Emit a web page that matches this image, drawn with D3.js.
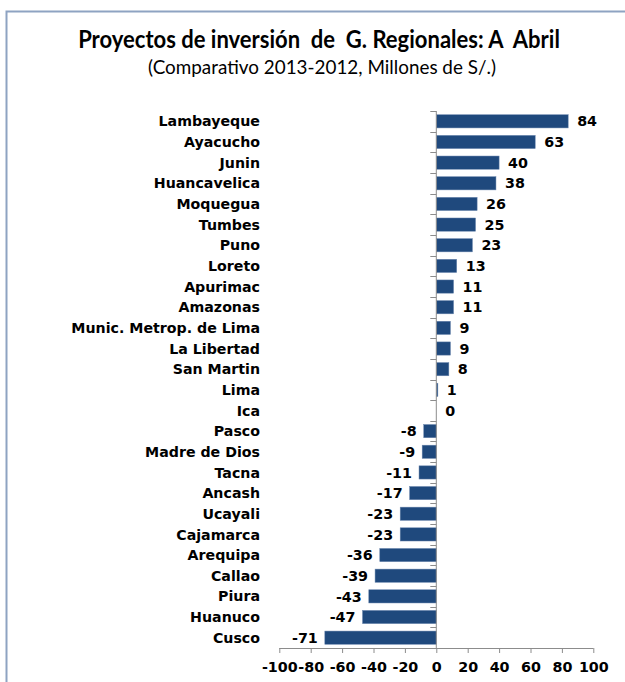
<!DOCTYPE html>
<html>
<head>
<meta charset="utf-8">
<script src="https://cdn.jsdelivr.net/npm/d3@7"></script>
<style>
  html, body { margin: 0; padding: 0; background: #ffffff; }
  svg { display: block; }
</style>
</head>
<body>
<svg id="chart" width="625" height="682"></svg>
<script>
const categories = ["Lambayeque","Ayacucho","Junin","Huancavelica","Moquegua","Tumbes","Puno","Loreto","Apurimac","Amazonas","Munic. Metrop. de Lima","La Libertad","San Martin","Lima","Ica","Pasco","Madre de Dios","Tacna","Ancash","Ucayali","Cajamarca","Arequipa","Callao","Piura","Huanuco","Cusco"];
const values = [84,63,40,38,26,25,23,13,11,11,9,9,8,1,0,-8,-9,-11,-17,-23,-23,-36,-39,-43,-47,-71];
const xTicks = [-100,-80,-60,-40,-20,0,20,40,60,80,100];
const titleText = "Proyectos de inversión  de  G. Regionales: A  Abril";
const subtitleText = "(Comparativo 2013-2012, Millones de S/.)";

const svg = d3.select("#chart");
const labelFont = "'DejaVu Sans', Verdana, sans-serif";
const titleFont = "Lato, 'Open Sans', sans-serif";

// frame
svg.append("rect")
  .attr("x", 6.5).attr("y", 11.5)
  .attr("width", 640).attr("height", 700)
  .attr("fill", "none")
  .attr("stroke", "#8EA3C2")
  .attr("stroke-width", 2);

function fitText(sel, target) {
  const node = sel.node();
  const size = parseFloat(sel.attr("font-size"));
  const w = node.getComputedTextLength();
  if (w > 0) sel.attr("font-size", (size * target / w).toFixed(2));
}

const titleG = svg.append("g").attr("transform", "translate(319,48) scale(1,1.1)");
const title = titleG.append("text")
  .attr("x", 0).attr("y", 0)
  .attr("text-anchor", "middle")
  .attr("font-family", titleFont)
  .attr("font-weight", "bold")
  .attr("font-size", 19)
  .attr("fill", "#000")
  .style("white-space", "pre")
  .text(titleText);
fitText(title, 482);

const sub = svg.append("text")
  .attr("x", 322).attr("y", 74)
  .attr("text-anchor", "middle")
  .attr("font-family", titleFont)
  .attr("font-size", 15)
  .attr("fill", "#000")
  .text(subtitleText);
fitText(sub, 348);

const x = d3.scaleLinear().domain([-100, 100]).range([279.3, 593.3]);
const y = d3.scaleBand().domain(categories).range([111, 648]).paddingInner(0.36).paddingOuter(0.18);

const data = categories.map((c, i) => ({ c, v: values[i] }));

// bars
svg.append("g").selectAll("rect").data(data).join("rect")
  .attr("x", d => x(Math.min(0, d.v)))
  .attr("y", d => y(d.c))
  .attr("width", d => Math.abs(x(d.v) - x(0)))
  .attr("height", y.bandwidth())
  .attr("fill", "#1F497D")
  .attr("stroke", "#6A86AE")
  .attr("stroke-width", 0.5);

// bottom axis
const xAxis = svg.append("g")
  .attr("transform", "translate(0,648)")
  .call(d3.axisBottom(x).tickValues(xTicks).tickSize(5).tickPadding(9).tickFormat(d3.format("d")));
xAxis.select(".domain").attr("stroke", "#8C8C8C").attr("d", `M${x(-100)},0.5H${x(100)}`);
xAxis.selectAll(".tick line").attr("stroke", "#8C8C8C");
xAxis.selectAll(".tick text")
  .attr("font-family", labelFont)
  .attr("font-weight", "bold")
  .attr("font-size", 14.3)
  .attr("fill", "#000")
  .text(d => d < 0 ? "-" + Math.abs(d) : d);

// vertical axis at zero with ticks between categories
const yTop = 111, yBot = 648;
const vg = svg.append("g");
vg.append("line")
  .attr("x1", x(0)).attr("x2", x(0))
  .attr("y1", yTop).attr("y2", yBot)
  .attr("stroke", "#8C8C8C").attr("stroke-width", 1);
const boundaries = d3.range(categories.length + 1).map(i => yTop + i * (yBot - yTop) / categories.length);
vg.selectAll("line.tk").data(boundaries).join("line")
  .attr("class", "tk")
  .attr("x1", x(0) - 6).attr("x2", x(0))
  .attr("y1", d => Math.round(d) + 0.5).attr("y2", d => Math.round(d) + 0.5)
  .attr("stroke", "#8C8C8C").attr("stroke-width", 1);

// category labels
svg.append("g").selectAll("text").data(data).join("text")
  .attr("x", 260)
  .attr("y", d => y(d.c) + y.bandwidth() / 2)
  .attr("dy", "0.36em")
  .attr("text-anchor", "end")
  .attr("font-family", labelFont)
  .attr("font-weight", "bold")
  .attr("font-size", 14.2)
  .attr("fill", "#000")
  .text(d => d.c);

// value labels
svg.append("g").selectAll("text").data(data).join("text")
  .attr("x", d => d.v < 0 ? x(d.v) - 7 : x(d.v) + 9)
  .attr("y", d => y(d.c) + y.bandwidth() / 2)
  .attr("dy", "0.36em")
  .attr("text-anchor", d => d.v < 0 ? "end" : "start")
  .attr("font-family", labelFont)
  .attr("font-weight", "bold")
  .attr("font-size", 14.3)
  .attr("fill", "#000")
  .text(d => d.v);
</script>
</body>
</html>
